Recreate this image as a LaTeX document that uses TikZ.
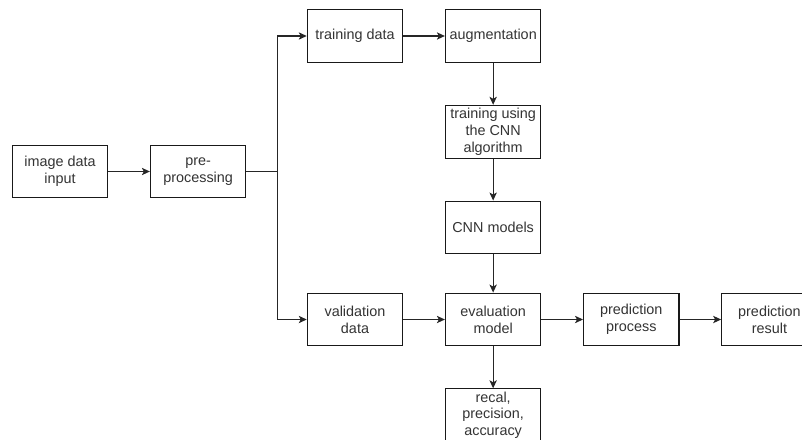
\documentclass[tikz,border=0pt]{standalone}
\usepackage{fontspec}
\setmainfont{Liberation Sans}
\usepackage{tikz}
\usetikzlibrary{arrows.meta,positioning}
\definecolor{boxtext}{HTML}{333333}
\tikzstyle{blk}=[draw=black!90, line width=0.8pt, minimum width=71.6pt, minimum height=39.6pt, inner sep=1pt, align=center, text=boxtext, font=\fontsize{10.8}{12.6}\selectfont]

\begin{document}
\begin{tikzpicture}
[->, x=0.75pt, y=0.75pt, node distance = 31.4pt and 31.2pt, >={Stealth[length=6pt,width=5.5pt,inset=1.5pt]}, line width=0.8pt, draw=black!85]
\useasboundingbox (0,0) rectangle (802,-439);
\node[blk] (input) at (60,-171.5) {image data\\input};
\node[blk] [right=of input] (pre) {pre-\\processing};
\coordinate [right=23.25pt of pre] (fork);
\node[blk] (train) at (355,-36) {training data};
\node[blk] [right=of train] (aug) {augmentation};
\node[blk] [below=of aug] (cnnalg) {training using\\the CNN\\algorithm};
\node[blk] [below=of cnnalg] (cnn) {CNN models};
\node[blk] (val) at (355,-319.5) {validation\\data};
\node[blk] [right=of val] (eval) {evaluation\\model};
\node[blk] [right=of eval] (pred) {prediction\\process};
\node[blk] [right=of pred] (res) {prediction\\result};
\node[blk] [below=of eval] (metric) {recal,\\precision,\\accuracy};
\draw[-] (pre) -- (fork);
\draw (fork) |- (train);
\draw (fork) |- (val);
\path{
(input) edge (pre)
(train) edge (aug)
(aug) edge (cnnalg)
(cnnalg) edge (cnn)
(cnn) edge (eval)
(val) edge (eval)
(eval) edge (pred)
(pred) edge (res)
(eval) edge (metric)
};
\end{tikzpicture}
\end{document}
